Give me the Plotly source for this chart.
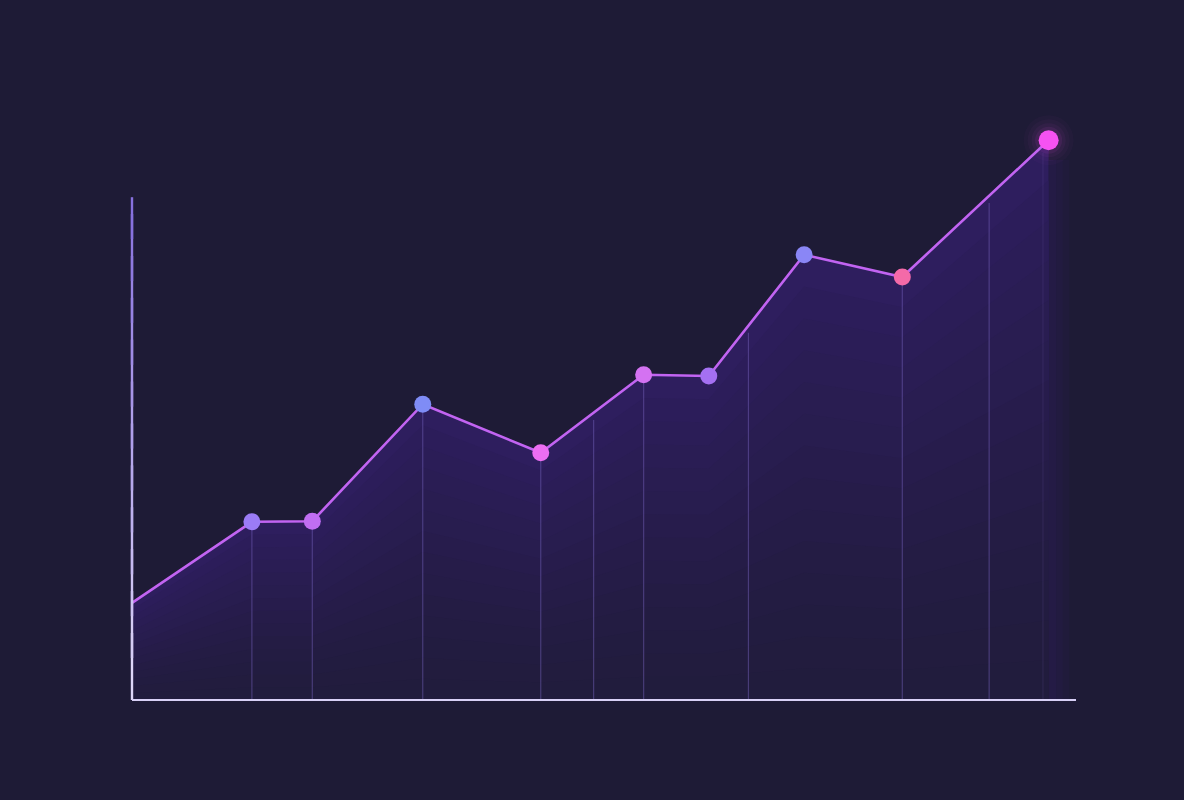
import numpy as np
import plotly.graph_objects as go

# === Données ===
x_vals = [0, 12.7, 19.1, 30.8, 43.3, 54.2, 61.1, 71.2, 81.6, 97.1]
y_vals = [16.2, 29.7, 29.8, 49.3, 41.2, 54.2, 54.0, 74.2, 70.5, 93.3]
point_colors = ["#b06ef0", "#9b7cf6", "#c06ef2", "#7f8cf6", "#ec6ef2",
                "#d472f2", "#a470f2", "#8a86f6", "#f46aa8", "#f652f2"]

# lignes verticales (x), le haut suit la courbe
drop_x = [12.7, 19.1, 30.8, 43.3, 48.9, 54.2, 65.3, 81.6, 90.8]
faint_x = [96.5]

y_axis_top = 83.8

bg = "#1e1b36"

fig = go.Figure()

# === Aire sous la courbe : bandes empilées (dégradé qui suit la courbe) ===
x_arr = np.array(x_vals)
y_arr = np.array(y_vals)
n_band = 14
top_rgb = np.array([46, 30, 94])
bot_rgb = np.array([33, 28, 60])
for i in range(n_band):
    t = 1 - i / n_band
    c = (bot_rgb + (top_rgb - bot_rgb) * t ** 1.3).astype(int)
    fig.add_trace(go.Scatter(
        x=x_arr, y=y_arr * t, mode="lines",
        line=dict(width=0, color="rgba(0,0,0,0)"),
        fill="tozeroy", fillcolor=f"rgb({c[0]},{c[1]},{c[2]})",
        hoverinfo="skip", showlegend=False,
    ))

# lueur douce à droite du dernier point
for w, a in [(2.2, 0.08), (1.5, 0.08), (0.8, 0.08)]:
    fig.add_shape(type="rect", x0=97.1, x1=97.1 + w, y0=0, y1=90,
                  fillcolor=f"rgba(64,38,128,{a})", line=dict(width=0), layer="below")

# === Lignes verticales ===
def drop_lines(xs, color):
    tops = np.interp(xs, x_vals, y_vals) - 1.2
    dx, dy = [], []
    for xd, yt in zip(xs, tops):
        dx += [xd, xd, None]
        dy += [0, yt, None]
    fig.add_trace(go.Scatter(
        x=dx, y=dy, mode="lines", line=dict(color=color, width=1.2),
        hoverinfo="skip", showlegend=False,
    ))

drop_lines(drop_x, "rgba(120,100,190,0.45)")
drop_lines(faint_x, "rgba(120,100,190,0.15)")

# === Axes dessinés (xref/yref paper pour ne pas être coupés) ===
n_seg = 12
seg = y_axis_top / n_seg
for i in range(n_seg):
    t0 = i / n_seg
    r = int(222 - (222 - 128) * t0)
    g = int(214 - (214 - 104) * t0)
    b = int(248 - (248 - 220) * t0)
    y0 = seg * i
    y1 = min(seg * (i + 1.6), y_axis_top)
    fig.add_shape(type="line", xref="paper", x0=0, x1=0, y0=y0, y1=y1,
                  line=dict(color=f"rgb({r},{g},{b})", width=2.4), layer="above")
fig.add_shape(type="line", yref="paper", x0=0, x1=100, y0=0, y1=0,
              line=dict(color="#d8d0f6", width=2.2), layer="above")

# === Lueur du dernier point ===
for s, a in [(50, 0.025), (42, 0.035), (34, 0.05), (27, 0.08)]:
    fig.add_trace(go.Scatter(
        x=[x_vals[-1]], y=[y_vals[-1]], mode="markers",
        marker=dict(size=s, color=f"rgba(240,80,240,{a})", line=dict(width=0)),
        hoverinfo="skip", showlegend=False,
    ))

# === Courbe ===
fig.add_trace(go.Scatter(
    x=x_vals, y=y_vals, mode="lines",
    line=dict(color="#c264f2", width=2.6),
    hoverinfo="skip", showlegend=False,
))

# === Points ===
sizes = [0] + [17] * (len(x_vals) - 2) + [20]
fig.add_trace(go.Scatter(
    x=x_vals, y=y_vals, mode="markers",
    marker=dict(size=sizes, color=point_colors, line=dict(width=0), opacity=1),
    showlegend=False,
))

fig.update_layout(
    width=1184, height=800,
    margin=dict(l=132, r=108, t=100, b=100),
    paper_bgcolor=bg, plot_bgcolor=bg,
    xaxis=dict(range=[0, 100], visible=False, fixedrange=True),
    yaxis=dict(range=[0, 100], visible=False, fixedrange=True),
)

fig.write_html("out.html",
               config={"displayModeBar": False},
               post_script="document.body.style.margin='0';"
                           "document.body.style.background='%s';" % bg)
